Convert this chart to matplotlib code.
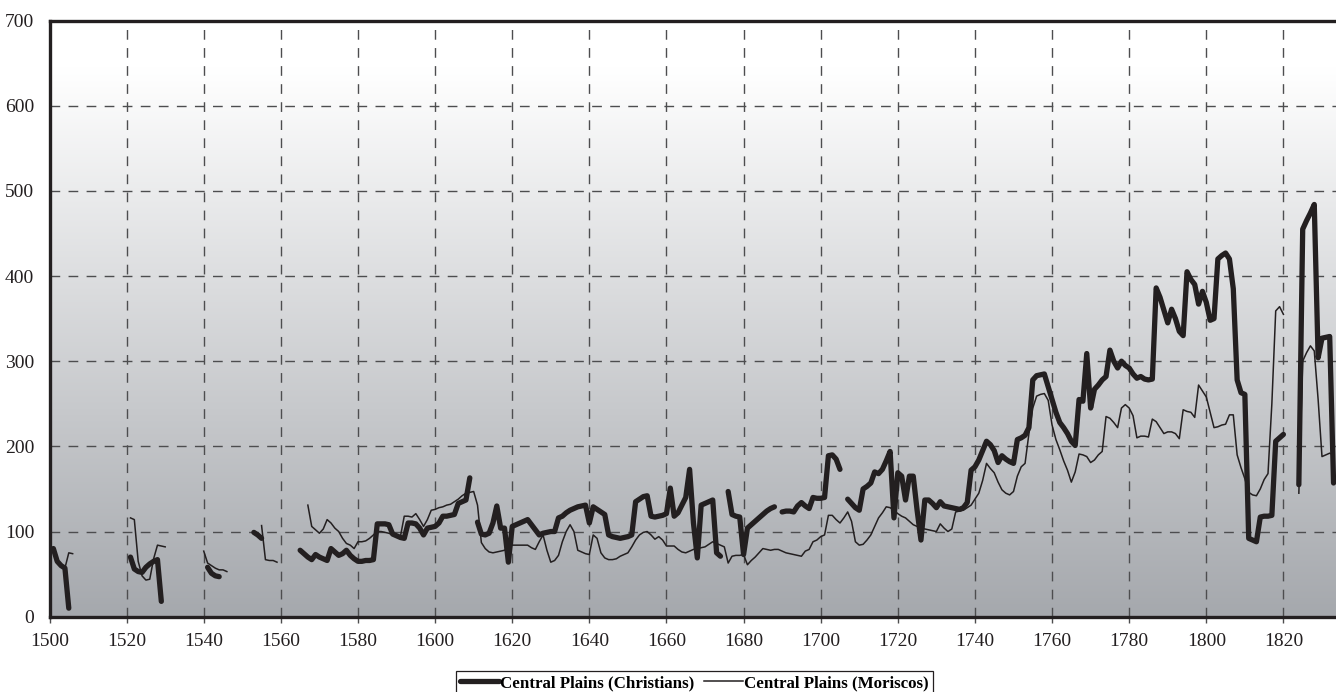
import numpy as np
import matplotlib
matplotlib.use("Agg")
import matplotlib.pyplot as plt

plt.rcParams['font.family'] = ['Liberation Serif', 'DejaVu Serif']

nan = np.nan
years = np.arange(1500, 1834)

# Central Plains (Christians), one row per decade
christians = [
    nan, 80, 65, 60, 57, 10, nan, nan, nan, nan,
    nan, nan, nan, nan, nan, nan, nan, nan, nan, nan,
    nan, 70, 56, 53, 52, 58, 62, 65, 67, 18,
    nan, nan, nan, nan, nan, nan, nan, nan, nan, nan,
    nan, 58, 51, 48, 47, nan, nan, nan, nan, nan,
    nan, nan, nan, 99, 96, 92, nan, nan, nan, nan,
    nan, nan, nan, nan, nan, 78, 74, 70, 67, 73,
    70, 68, 66, 80, 76, 72, 74, 78, 72, 68,
    65, 65, 66, 66, 67, 109, 109, 109, 108, 97,
    95, 93, 92, 110, 110, 109, 104, 96, 104, 105,
    106, 110, 118, 118, 119, 120, 133, 135, 137, 163,
    nan, 111, 97, 96, 98, 110, 130, 104, 104, 64,
    106, 108, 110, 112, 114, 108, 102, 96, 98, 99,
    100, 100, 116, 118, 122, 125, 127, 129, 130, 131,
    110, 129, 126, 123, 120, 96, 94, 93, 92, 93,
    94, 96, 135, 138, 141, 142, 118, 117, 118, 119,
    121, 151, 118, 122, 131, 140, 173, 110, 69, 131,
    133, 135, 137, 75, 71, nan, 147, 120, 118, 117,
    73, 104, 108, 112, 116, 120, 124, 127, 129, nan,
    123, 124, 124, 123, 130, 134, 130, 127, 140, 139,
    139, 140, 189, 190, 185, 173, nan, 138, 133, 128,
    125, 150, 153, 157, 170, 168, 173, 183, 194, 116,
    169, 165, 137, 165, 165, 125, 90, 137, 137, 133,
    128, 135, 130, 129, 128, 127, 126, 128, 134, 172,
    176, 184, 195, 206, 202, 195, 181, 189, 185, 182,
    180, 208, 210, 213, 222, 278, 283, 284, 285, 270,
    255, 240, 228, 222, 215, 206, 201, 255, 253, 309,
    245, 267, 272, 278, 282, 313, 300, 292, 300, 295,
    292, 285, 280, 282, 279, 278, 279, 386, 375, 360,
    345, 361, 350, 335, 330, 405, 396, 390, 367, 382,
    369, 348, 350, 420, 424, 427, 420, 385, 278, 263,
    261, 92, 90, 88, 117, 118, 118, 119, 206, 210,
    214, nan, nan, nan, 155, 455, 465, 474, 484, 304,
    327, 328, 329, 157,
]

# Central Plains (Moriscos), one row per decade
moriscos = [
    nan, 78, 66, 62, 57, 75, 74, nan, nan, nan,
    nan, nan, nan, nan, nan, nan, nan, nan, nan, nan,
    nan, 116, 114, 65, 48, 43, 44, 68, 84, 83,
    82, nan, nan, nan, nan, nan, nan, nan, nan, nan,
    77, 63, 60, 57, 55, 55, 53, nan, nan, nan,
    nan, nan, nan, nan, nan, 107, 67, 66, 66, 64,
    nan, nan, nan, nan, nan, nan, nan, 131, 106, 102,
    98, 103, 114, 110, 104, 100, 92, 86, 84, 80,
    88, 88, 89, 92, 96, 100, 100, 99, 98, 96,
    95, 94, 118, 118, 117, 121, 114, 106, 114, 125,
    126, 128, 129, 131, 132, 135, 138, 142, 145, 146,
    147, 131, 87, 80, 76, 75, 76, 77, 78, 82,
    84, 84, 84, 84, 84, 81, 79, 88, 96, 78,
    64, 66, 72, 88, 100, 108, 100, 78, 76, 74,
    73, 96, 92, 75, 69, 67, 67, 68, 71, 73,
    75, 82, 90, 96, 99, 100, 96, 91, 94, 90,
    83, 83, 83, 79, 76, 75, 77, 79, 80, 81,
    82, 85, 88, 86, 84, 82, 63, 71, 72, 72,
    73, 61, 66, 70, 75, 80, 79, 78, 79, 79,
    77, 75, 74, 73, 72, 71, 77, 79, 88, 90,
    94, 96, 119, 119, 114, 110, 116, 123, 112, 88,
    84, 85, 90, 96, 106, 116, 122, 129, 128, 125,
    121, 118, 116, 112, 108, 106, 104, 103, 102, 101,
    100, 109, 104, 100, 103, 123, 124, 125, 128, 131,
    138, 145, 160, 180, 174, 169, 158, 149, 145, 143,
    147, 165, 176, 180, 215, 245, 259, 261, 262, 254,
    225, 208, 196, 183, 172, 158, 170, 191, 190, 188,
    181, 184, 190, 194, 235, 233, 228, 222, 245, 249,
    245, 236, 210, 212, 212, 211, 232, 229, 222, 215,
    217, 217, 215, 209, 243, 241, 240, 234, 272, 265,
    258, 240, 222, 223, 225, 226, 237, 237, 190, 175,
    162, 146, 143, 142, 150, 161, 168, 250, 359, 364,
    355, nan, nan, nan, 145, 300, 310, 318, 312, 255,
    188, 190, 192, 190,
]

x_ticks = list(range(1500, 1821, 20))
y_ticks = list(range(0, 701, 100))
labels = ['Central Plains (Christians)', 'Central Plains (Moriscos)']

W, H = 1336, 692
fig = plt.figure(figsize=(W / 100, H / 100), dpi=100)
fig.patch.set_facecolor('white')
ax = fig.add_axes([49.5 / W, (H - 616.7) / H, (W - 49.5) / W, (616.7 - 20.5) / H])

xmin, xmax = 1500, 1500 + (W - 49.5) / 3.856
ax.set_xlim(xmin, xmax)
ax.set_ylim(0, 700)

# vertical gradient background
bottom = np.array([0.647, 0.659, 0.678])
grad = np.linspace(0, 1, 400)
frac = np.clip(grad / 0.92, 0, 1)
cols = bottom[None, :] + (1 - bottom[None, :]) * frac[:, None]
img = cols[:, None, :]
ax.imshow(img, origin='lower', aspect='auto', extent=[xmin, xmax, 0, 700],
          zorder=0, interpolation='bilinear')

grid_kw = dict(color='#4d4d4f', lw=1.0, dashes=(7, 6), zorder=1)
for xv in x_ticks[1:]:
    ax.axvline(xv, **grid_kw)
for yv in y_ticks[1:-1]:
    ax.axhline(yv, **grid_kw)

ink = '#231f20'
ax.plot(years, christians, color=ink, lw=3.8, solid_joinstyle='round',
        solid_capstyle='round', label=labels[0], zorder=3)
ax.plot(years, moriscos, color=ink, lw=1.1, label=labels[1], zorder=4)

ax.set_xticks(x_ticks)
ax.set_yticks(y_ticks)
ax.tick_params(axis='x', direction='out', length=4, width=1, color='#4d4d4f',
               pad=8, labelsize=14, labelcolor=ink)
ax.tick_params(axis='y', length=0, pad=11, labelsize=14, labelcolor=ink)

for s in ['left', 'top', 'bottom']:
    ax.spines[s].set_linewidth(2.4)
    ax.spines[s].set_color(ink)
    ax.spines[s].set_zorder(5)
ax.spines['right'].set_visible(False)

leg = fig.legend(loc='upper left', bbox_to_anchor=(456 / W, (H - 671) / H),
                 ncol=2, frameon=True, fancybox=False, framealpha=1,
                 edgecolor=ink, handlelength=2.3, handletextpad=0.05,
                 columnspacing=0.6, borderpad=0.25, borderaxespad=0,
                 prop={'weight': 'bold', 'size': 12.2})
leg.get_frame().set_linewidth(0.9)

fig.savefig('out.png', dpi=100)
